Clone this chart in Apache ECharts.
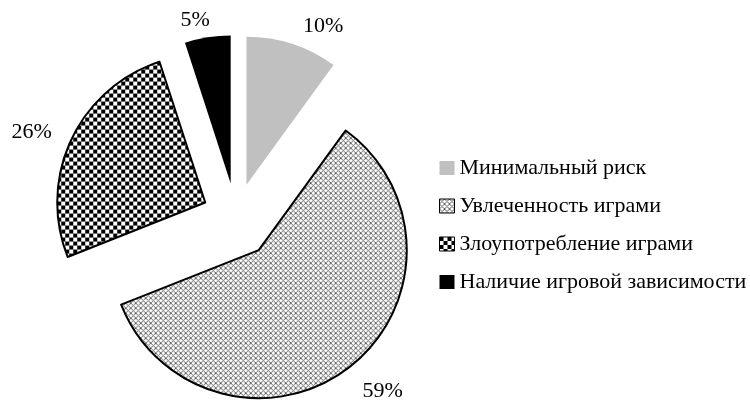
<!DOCTYPE html>
<html>
<head>
<meta charset="utf-8">
<script src="https://cdn.jsdelivr.net/npm/echarts@6/dist/echarts.min.js"></script>
<style>
  html, body { margin: 0; padding: 0; background: #fff; }
  #chart { width: 750px; height: 401px; }
</style>
</head>
<body>
<div id="chart"></div>
<script>
// data
var categories = ['Минимальный риск', 'Увлеченность играми', 'Злоупотребление играми', 'Наличие игровой зависимости'];
var values = [10, 59, 26, 5];

// pattern tiles
function crossHatch() {
  var c = document.createElement('canvas');
  c.width = 5; c.height = 5;
  var ctx = c.getContext('2d');
  ctx.fillStyle = '#fff';
  ctx.fillRect(0, 0, 5, 5);
  ctx.fillStyle = '#606060';
  for (var i = 0; i < 5; i++) {
    ctx.fillRect(i, i, 1, 1);
    ctx.fillRect(4 - i, i, 1, 1);
  }
  return c;
}
function checker() {
  var c = document.createElement('canvas');
  c.width = 8; c.height = 8;
  var ctx = c.getContext('2d');
  ctx.fillStyle = '#fff';
  ctx.fillRect(0, 0, 8, 8);
  ctx.fillStyle = '#000';
  ctx.fillRect(0, 0, 4, 4);
  ctx.fillRect(4, 4, 4, 4);
  return c;
}

var fills = [
  '#c0c0c0',
  { image: crossHatch(), repeat: 'repeat' },
  { image: checker(), repeat: 'repeat' },
  '#000'
];
var borders = [0, 2, 2, 0];
// hidden label lines only used to nudge the percent labels
var lineLen = [19, 31, 16, 17];
var lineLen2 = [0, -11, 0, -10];

var labelFont = { fontFamily: 'Liberation Serif', fontSize: 22, color: '#000' };

// the big slice is pulled out a bit further than the rest, so it gets its own series
function pieSeries(showIdx, offset, cx) {
  return {
    type: 'pie',
    center: [cx, 217],
    radius: 148,
    startAngle: 90,
    clockwise: true,
    selectedMode: 'multiple',
    selectedOffset: offset,
    silent: true,
    emphasis: { disabled: true },
    label: Object.assign({ show: true, position: 'outside', formatter: '{c}%' }, labelFont),
    labelLine: { show: false },
    data: categories.map(function (name, i) {
      var on = showIdx.indexOf(i) >= 0;
      return {
        name: name,
        value: values[i],
        selected: true,
        label: { show: on },
        labelLine: { show: false, length: lineLen[i], length2: lineLen2[i] },
        itemStyle: on
          ? { color: fills[i], borderColor: '#000', borderWidth: borders[i] }
          : { color: 'rgba(0,0,0,0)', borderWidth: 0 }
      };
    })
  };
}

var chart = echarts.init(document.getElementById('chart'));
chart.setOption({
  animation: false,
  legend: {
    orient: 'vertical',
    left: 439,
    top: 157,
    padding: 0,
    itemWidth: 15,
    itemHeight: 14,
    itemGap: 16,
    icon: 'rect',
    selectedMode: false,
    textStyle: labelFont,
    data: categories.map(function (name, i) {
      return {
        name: name,
        itemStyle: { color: fills[i], borderColor: '#000', borderWidth: borders[i] ? 1 : 0 }
      };
    })
  },
  series: [
    pieSeries([0, 2, 3], 34, 236),
    pieSeries([1], 42, 233)
  ]
});
</script>
</body>
</html>
